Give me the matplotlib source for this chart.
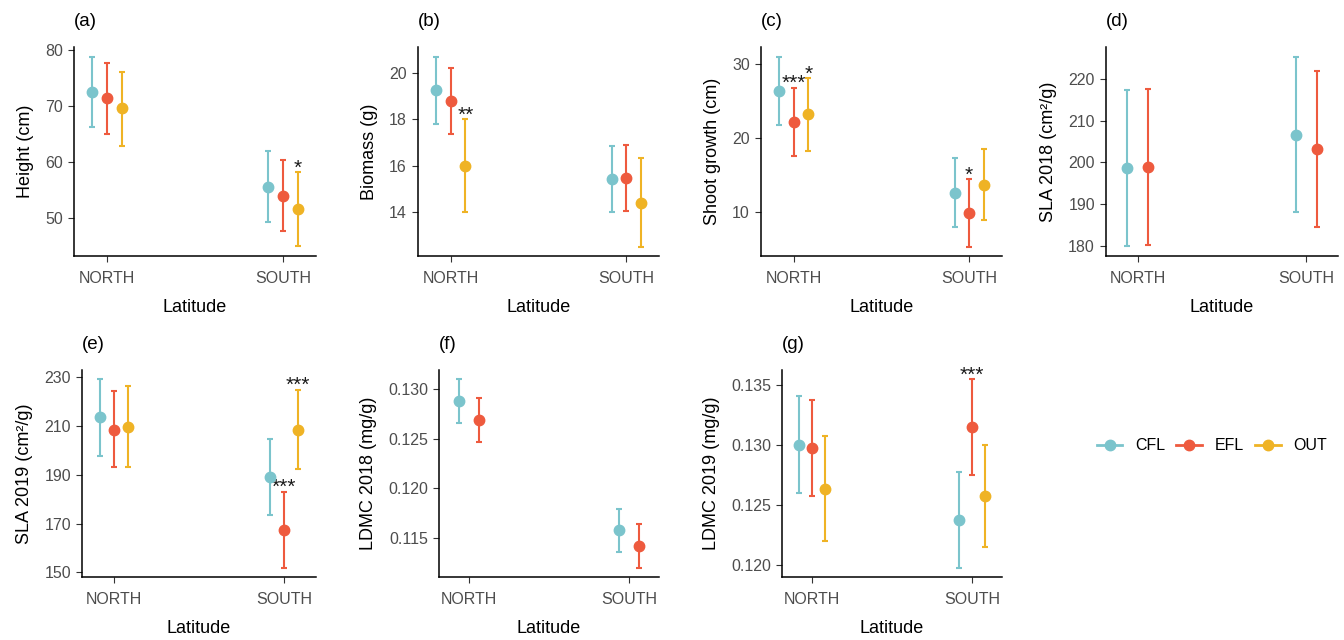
import matplotlib
matplotlib.use('Agg')
import matplotlib.pyplot as plt
from matplotlib.lines import Line2D

plt.rcParams['font.family'] = ['Liberation Sans', 'DejaVu Sans']

latitudes = ['NORTH', 'SOUTH']
treatments = ['CFL', 'EFL', 'OUT']
colors = {'CFL': '#7BC4CC', 'EFL': '#EE5A3E', 'OUT': '#EFB325'}

# mean, lower, upper per treatment -> [NORTH, SOUTH]
height_mean = {'CFL': [72.5, 55.6], 'EFL': [71.4, 53.9], 'OUT': [69.6, 51.6]}
height_lo = {'CFL': [66.2, 49.2], 'EFL': [65.0, 47.6], 'OUT': [62.8, 44.9]}
height_hi = {'CFL': [78.9, 62.0], 'EFL': [77.7, 60.3], 'OUT': [76.2, 58.2]}
height_sig = {'CFL': ['', ''], 'EFL': ['', ''], 'OUT': ['', '*']}

biomass_mean = {'CFL': [19.26, 15.41], 'EFL': [18.76, 15.46], 'OUT': [16.0, 14.39]}
biomass_lo = {'CFL': [17.80, 13.99], 'EFL': [17.34, 14.03], 'OUT': [14.0, 12.52]}
biomass_hi = {'CFL': [20.69, 16.84], 'EFL': [20.19, 16.87], 'OUT': [18.0, 16.31]}
biomass_sig = {'CFL': ['', ''], 'EFL': ['', ''], 'OUT': ['**', '']}

shoot_mean = {'CFL': [26.37, 12.65], 'EFL': [22.23, 9.96], 'OUT': [23.18, 13.73]}
shoot_lo = {'CFL': [21.79, 8.07], 'EFL': [17.61, 5.42], 'OUT': [18.28, 8.93]}
shoot_hi = {'CFL': [30.98, 17.27], 'EFL': [26.76, 14.49], 'OUT': [28.07, 18.6]}
shoot_sig = {'CFL': ['', ''], 'EFL': ['***', '*'], 'OUT': ['*', '']}

sla18_mean = {'CFL': [198.6, 206.6], 'EFL': [198.9, 203.2]}
sla18_lo = {'CFL': [179.9, 188.1], 'EFL': [180.3, 184.5]}
sla18_hi = {'CFL': [217.4, 225.3], 'EFL': [217.6, 221.8]}
sla18_sig = {'CFL': ['', ''], 'EFL': ['', '']}

sla19_mean = {'CFL': [213.6, 189.2], 'EFL': [208.6, 167.5], 'OUT': [209.8, 208.6]}
sla19_lo = {'CFL': [197.9, 173.6], 'EFL': [193.2, 152.0], 'OUT': [193.4, 192.6]}
sla19_hi = {'CFL': [229.2, 204.8], 'EFL': [224.3, 183.1], 'OUT': [226.5, 224.9]}
sla19_sig = {'CFL': ['', ''], 'EFL': ['', '***'], 'OUT': ['', '***']}

ldmc18_mean = {'CFL': [0.1288, 0.11573], 'EFL': [0.12686, 0.11410]}
ldmc18_lo = {'CFL': [0.12659, 0.11357], 'EFL': [0.1247, 0.11196]}
ldmc18_hi = {'CFL': [0.1310, 0.11788], 'EFL': [0.12907, 0.11634]}
ldmc18_sig = {'CFL': ['', ''], 'EFL': ['', '']}

ldmc19_mean = {'CFL': [0.13003, 0.12378], 'EFL': [0.12973, 0.13149], 'OUT': [0.12636, 0.12576]}
ldmc19_lo = {'CFL': [0.12601, 0.11978], 'EFL': [0.12573, 0.12749], 'OUT': [0.12201, 0.12149]}
ldmc19_hi = {'CFL': [0.13409, 0.12776], 'EFL': [0.13376, 0.13550], 'OUT': [0.13075, 0.13003]}
ldmc19_sig = {'CFL': ['', ''], 'EFL': ['', '***'], 'OUT': ['', '']}

panels = [
    ('(a)', 'Height (cm)', height_mean, height_lo, height_hi, height_sig, [50, 60, 70, 80], '{:.0f}'),
    ('(b)', 'Biomass (g)', biomass_mean, biomass_lo, biomass_hi, biomass_sig, [14, 16, 18, 20], '{:.0f}'),
    ('(c)', 'Shoot growth (cm)', shoot_mean, shoot_lo, shoot_hi, shoot_sig, [10, 20, 30], '{:.0f}'),
    ('(d)', 'SLA 2018 (cm\u00b2/g)', sla18_mean, sla18_lo, sla18_hi, sla18_sig, [180, 190, 200, 210, 220], '{:.0f}'),
    ('(e)', 'SLA 2019 (cm\u00b2/g)', sla19_mean, sla19_lo, sla19_hi, sla19_sig, [150, 170, 190, 210, 230], '{:.0f}'),
    ('(f)', 'LDMC 2018 (mg/g)', ldmc18_mean, ldmc18_lo, ldmc18_hi, ldmc18_sig, [0.115, 0.120, 0.125, 0.130], '{:.3f}'),
    ('(g)', 'LDMC 2019 (mg/g)', ldmc19_mean, ldmc19_lo, ldmc19_hi, ldmc19_sig, [0.120, 0.125, 0.130, 0.135], '{:.3f}'),
]

# axes boxes in pixels: left, top, right, bottom
W, H = 1344, 640
boxes = [
    (74, 47, 316, 256), (418, 47, 659, 256), (761, 47, 1002, 256), (1106, 47, 1338, 256),
    (82, 370, 316, 577), (439, 370, 659, 577), (782, 370, 1002, 577),
]

fig = plt.figure(figsize=(W / 100, H / 100), dpi=100)
dodge_width = 0.25
tick_color = '#4D4D4D'

for (title, ylab, mean, lo, hi, sig, yticks, fmt), (l, t, r, b) in zip(panels, boxes):
    ax = fig.add_axes([l / W, 1 - b / H, (r - l) / W, (b - t) / H])
    groups = list(mean.keys())
    n = len(groups)
    for i, g in enumerate(groups):
        off = (i - (n - 1) / 2) * dodge_width / n
        xs = [k + off for k in range(len(latitudes))]
        yerr = [[m - a for m, a in zip(mean[g], lo[g])], [c - m for m, c in zip(mean[g], hi[g])]]
        ax.errorbar(xs, mean[g], yerr=yerr, fmt='o', color=colors[g], ms=7.5,
                    elinewidth=1.5, capsize=2.5, capthick=1.5, zorder=3)
        for x, y, s in zip(xs, hi[g], sig[g]):
            if s:
                ax.annotate(s, (x, y), xytext=(0, 3), textcoords='offset points',
                            ha='center', va='center', fontsize=15, color='#1a1a1a')
    ax.margins(y=0.05)
    ax.set_xlim(-0.1875, 1.1875)
    ax.set_xticks(range(len(latitudes)))
    ax.set_xticklabels(latitudes)
    ax.set_yticks(yticks)
    ax.set_yticklabels([fmt.format(v) for v in yticks])
    ax.tick_params(axis='both', labelsize=11.5, colors='#333333', labelcolor=tick_color,
                   length=4, width=0.8)
    ax.tick_params(axis='x', pad=7)
    ax.tick_params(axis='y', pad=4)
    ax.set_xlabel('Latitude', fontsize=13, labelpad=9)
    ax.set_ylabel(ylab, fontsize=13, labelpad=8)
    for side in ['top', 'right']:
        ax.spines[side].set_visible(False)
    for side in ['left', 'bottom']:
        ax.spines[side].set_linewidth(1.1)
    ax.set_title(title, loc='left', fontsize=13.5, pad=15)

handles = [Line2D([0], [0], color=colors[g], marker='o', ms=7.5, lw=2) for g in treatments]
fig.legend(handles, treatments, loc='center', bbox_to_anchor=(1212 / W, 1 - 446 / H),
           ncol=3, frameon=False, fontsize=11.5, handlelength=1.6, columnspacing=0.7,
           handletextpad=0.8)

fig.savefig('out.png', dpi=100, facecolor='white')
